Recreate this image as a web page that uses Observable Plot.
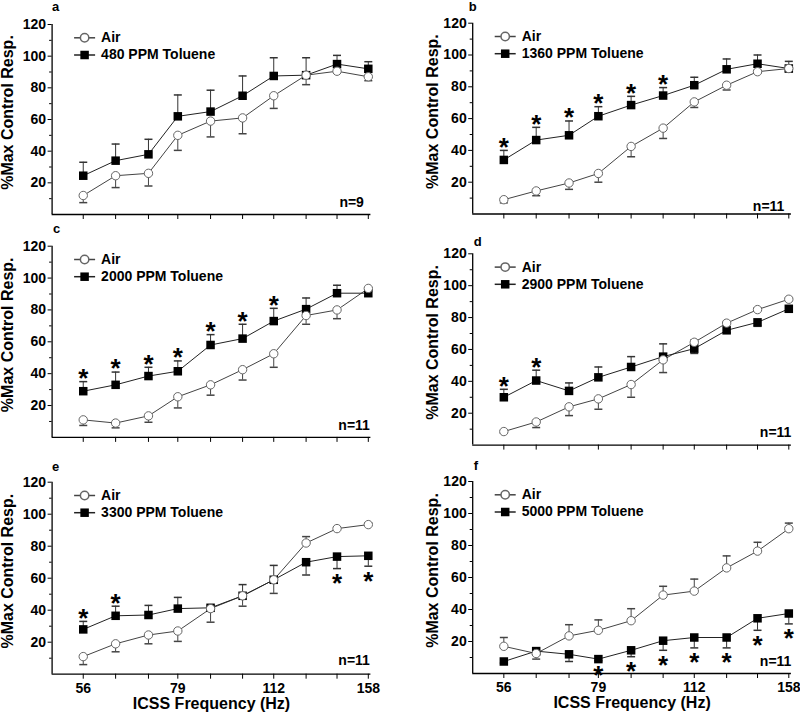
<!DOCTYPE html>
<html><head><meta charset="utf-8">
<script src="https://cdn.jsdelivr.net/npm/d3@7"></script>
<script src="https://cdn.jsdelivr.net/npm/@observablehq/plot@0.6"></script>
<style>
html,body{margin:0;padding:0;background:#fff;}
#fig{position:relative;width:800px;height:713px;overflow:hidden;}
#fig svg{position:absolute;}
</style></head><body><div id="fig"></div>
<script>
// ---- data ----
const freqs = [56, 63, 71, 79, 89, 100, 112, 126, 141, 158];
const xTickLabels = [56, 79, 112, 158];
const yTicks = [20, 40, 60, 80, 100, 120];
const yMinorTicks = [10, 30, 50, 70, 90, 110];
const xTitle = "ICSS Frequency (Hz)";
const yTitle = "%Max Control Resp.";
const airLabel = "Air";
const panelLetters = ["a", "b", "c", "d", "e", "f"];
const doseLabels = ["480 PPM Toluene", "1360 PPM Toluene", "2000 PPM Toluene", "2900 PPM Toluene", "3300 PPM Toluene", "5000 PPM Toluene"];
const nLabels = ["n=9", "n=11", "n=11", "n=11", "n=11", "n=11"];

// signed errors: positive = bar drawn upward, negative = downward
// sig: 1 = asterisk above toluene bar, -1 = below, 0 = none
const airA = [12, 24.5, 26, 50, 59, 61, 75, 88, 90.5, 87];
const airErrA = [-4.5, -7.5, -8, -9.5, -10, -10, -8, -6, -1, -2.5];
const tolA = [24.5, 34, 38, 62, 65, 75, 87.5, 88, 95, 92];
const tolErrA = [8.5, 10.5, 9.5, 13.5, 13.5, 12.5, 11.5, 11, 5.5, 4.5];
const sigA = [0, 0, 0, 0, 0, 0, 0, 0, 0, 0];

const airB = [9, 14.5, 19.5, 25.5, 42.5, 54, 70.5, 81, 89.5, 91.5];
const airErrB = [-2, -3, -4, -5.5, -6.5, -6.5, -3.5, -3, -1, -2];
const tolB = [34, 46.5, 49.5, 61.5, 68.5, 74.5, 81, 91, 94.5, 91.5];
const tolErrB = [6, 8, 9, 6, 5.5, 5, 5, 6.5, 5.5, 4.5];
const sigB = [1, 1, 1, 1, 1, 1, 0, 0, 0, 0];

const airC = [11, 9, 13.5, 25.5, 33, 42.5, 52.5, 76.5, 80, 93.5];
const airErrC = [-3.5, -3, -4, -7, -6.5, -6.5, -8.5, -5.5, -5.5, -1];
const tolC = [29, 33, 38.5, 41.5, 58, 62, 73, 80.5, 90.5, 90.5];
const tolErrC = [6, 8, 5.5, 6.5, 6.5, 9, 8, 7, 5, 1];
const sigC = [1, 1, 1, 1, 1, 1, 1, 0, 0, 0];

const airD = [8.5, 14.5, 24, 29, 38, 53.5, 64.5, 76.5, 85, 91.5];
const airErrD = [-1, -3.5, -5.5, -6.5, -8, -8, 1.5, 1, 1, 1];
const tolD = [30, 40.5, 34, 42.5, 49, 55.5, 60.5, 72, 77, 85.5];
const tolErrD = [5, 6.5, 5, 6.5, 6.5, 8, -3, -1.5, -2.5, -2];
const sigD = [1, 1, 0, 0, 0, 0, 0, 0, 0, 0];

const airE = [11, 19, 24.5, 27, 41, 49, 59, 82, 91, 93.5];
const airErrE = [-5, -5, -5.5, -6.5, -8.5, -6.5, -8.5, 4, 1, 1];
const tolE = [28, 36.5, 37, 41, 41.5, 49, 59, 70, 73.5, 74];
const tolErrE = [5, 6, 6, 7, 1, 7, 9, -8, -7.5, -6.5];
const sigE = [1, 1, 0, 0, 0, 0, 0, 0, -1, -1];

const airF = [17, 12.5, 23.5, 27, 33, 49, 51.5, 66, 76.5, 90.5];
const airErrF = [5.5, -3.5, 7, 6.5, 7.5, 5.5, 7.5, 7.5, 5.5, 3.5];
const tolF = [7.5, 14, 12, 9, 14.5, 20.5, 22.5, 22.5, 34.5, 37.5];
const tolErrF = [-1, -1, -4.5, -1, -4, -6, -6.5, -6.5, -7.5, -6.5];
const sigF = [0, 0, 0, -1, -1, -1, -1, -1, -1, -1];

const series = [
  {air: airA, airErr: airErrA, tol: tolA, tolErr: tolErrA, sig: sigA},
  {air: airB, airErr: airErrB, tol: tolB, tolErr: tolErrB, sig: sigB},
  {air: airC, airErr: airErrC, tol: tolC, tolErr: tolErrC, sig: sigC},
  {air: airD, airErr: airErrD, tol: tolD, tolErr: tolErrD, sig: sigD},
  {air: airE, airErr: airErrE, tol: tolE, tolErr: tolErrE, sig: sigE},
  {air: airF, airErr: airErrF, tol: tolF, tolErr: tolErrF, sig: sigF}
];

// ---- layout ----
const xDomain = [50, 159.5];
const layouts = [
  {left: 0,   top: 0,   h: 225, ml: 51.6, mr: 29.6, mt: 24,   mb: 11,   bottom: false, letDx: 0,  letDy: -18, nDx: -7, nDy: -12, yDx: -44},
  {left: 400, top: 0,   h: 225, ml: 72.2, mr: 9.1,  mt: 22.7, mb: 11.5, bottom: false, letDx: -4, letDy: -16, nDx: -7, nDy: -7,  yDx: -40},
  {left: 0,   top: 225, h: 230, ml: 51.6, mr: 29.6, mt: 20.7, mb: 18.1, bottom: false, letDx: 1,  letDy: -17, nDx: -1, nDy: -12, yDx: -44},
  {left: 400, top: 225, h: 230, ml: 72.2, mr: 9.1,  mt: 28.3, mb: 10.4, bottom: false, letDx: 1,  letDy: -12, nDx: 0,  nDy: -13, yDx: -40},
  {left: 0,   top: 455, h: 258, ml: 51.6, mr: 29.6, mt: 26.7, mb: 39.3, bottom: true,  letDx: 0,  letDy: -15, nDx: -1, nDy: -14, yDx: -44},
  {left: 400, top: 455, h: 258, ml: 72.2, mr: 9.1,  mt: 26,   mb: 40,   bottom: true,  letDx: 1,  letDy: -16, nDx: 0,  nDy: -12, yDx: -40}
];

const capSym = {draw(ctx) { ctx.moveTo(-4, 0); ctx.lineTo(4, 0); }};
const legLine = {draw(ctx) { ctx.moveTo(-10.5, 0); ctx.lineTo(10.5, 0); }};
const fig = document.getElementById("fig");

layouts.forEach((cfg, k) => {
  const s = series[k];
  const rows = freqs.map((f, i) => ({
    f, air: s.air[i], airEnd: s.air[i] + s.airErr[i],
    tol: s.tol[i], tolEnd: s.tol[i] + s.tolErr[i], sig: s.sig[i]
  }));
  const marks = [
    Plot.axisY(yTicks, {tickSize: 4, tickPadding: 2, fontSize: 14, fontWeight: "bold"}),
    Plot.axisY(yMinorTicks, {tickSize: 2.5, tickFormat: () => ""}),
    Plot.axisX(freqs, {tickSize: 5, tickFormat: () => ""}),
    Plot.ruleY([0], {stroke: "#000", strokeWidth: 1.3}),
    Plot.ruleX([xDomain[0]], {y1: 0, y2: 120, stroke: "#000", strokeWidth: 1.3}),
    // error bars
    Plot.ruleX(rows, {x: "f", y1: "air", y2: "airEnd", stroke: "#444"}),
    Plot.dot(rows, {x: "f", y: "airEnd", symbol: capSym, stroke: "#444", fill: "none"}),
    Plot.ruleX(rows, {x: "f", y1: "tol", y2: "tolEnd", stroke: "#333"}),
    Plot.dot(rows, {x: "f", y: "tolEnd", symbol: capSym, stroke: "#333", fill: "none"}),
    // lines
    Plot.line(rows, {x: "f", y: "air", stroke: "#444", strokeWidth: 1}),
    Plot.line(rows, {x: "f", y: "tol", stroke: "#222", strokeWidth: 1}),
    // markers
    Plot.dot(rows, {x: "f", y: "tol", symbol: "square", r: 4.8, fill: "#000", stroke: "none"}),
    Plot.dot(rows, {x: "f", y: "air", r: 4.2, fill: "#fff", stroke: "#666", strokeWidth: 1}),
    // significance asterisks
    Plot.text(rows.filter(d => d.sig > 0), {x: "f", y: "tolEnd", text: () => "*", fontSize: 26, fontWeight: "bold", lineAnchor: "middle", dy: -3}),
    Plot.text(rows.filter(d => d.sig < 0), {x: "f", y: "tolEnd", text: () => "*", fontSize: 26, fontWeight: "bold", lineAnchor: "middle", dy: 15}),
    // legend
    Plot.dot([0], {frameAnchor: "top-left", dx: 32.5, dy: 13.3, symbol: legLine, stroke: "#444", fill: "none"}),
    Plot.dot([0], {frameAnchor: "top-left", dx: 32.5, dy: 13.3, r: 4.2, fill: "#fff", stroke: "#666"}),
    Plot.text([airLabel], {frameAnchor: "top-left", dx: 49, dy: 13.3, text: d => d, textAnchor: "start", lineAnchor: "middle", fontSize: 14, fontWeight: "bold"}),
    Plot.dot([0], {frameAnchor: "top-left", dx: 32.5, dy: 30.5, symbol: legLine, stroke: "#222", fill: "none"}),
    Plot.dot([0], {frameAnchor: "top-left", dx: 32.5, dy: 30.5, symbol: "square", r: 4.8, fill: "#000", stroke: "none"}),
    Plot.text([doseLabels[k]], {frameAnchor: "top-left", dx: 49, dy: 30.5, text: d => d, textAnchor: "start", lineAnchor: "middle", fontSize: 14, fontWeight: "bold"}),
    // panel letter, n, y title
    Plot.text([panelLetters[k]], {frameAnchor: "top-left", dx: cfg.letDx, dy: cfg.letDy, text: d => d, textAnchor: "start", lineAnchor: "middle", fontSize: 13, fontWeight: "bold"}),
    Plot.text([nLabels[k]], {frameAnchor: "bottom-right", dx: cfg.nDx, dy: cfg.nDy, text: d => d, textAnchor: "end", lineAnchor: "middle", fontSize: 14, fontWeight: "bold"}),
    Plot.text([yTitle], {frameAnchor: "left", dx: cfg.yDx, dy: -7, rotate: -90, text: d => d, textAnchor: "middle", lineAnchor: "middle", fontSize: 16, fontWeight: "bold"})
  ];
  if (cfg.bottom) {
    marks.push(Plot.text(xTickLabels, {x: d => d, frameAnchor: "bottom", dy: 14.3, text: d => String(d), textAnchor: "middle", lineAnchor: "middle", fontSize: 14, fontWeight: "bold"}));
    marks.push(Plot.text([xTitle], {frameAnchor: "bottom", dy: 29.8, text: d => d, textAnchor: "middle", lineAnchor: "middle", fontSize: 16, fontWeight: "bold"}));
  }
  const svg = Plot.plot({
    width: 400, height: cfg.h,
    marginLeft: cfg.ml, marginRight: cfg.mr, marginTop: cfg.mt, marginBottom: cfg.mb,
    style: {fontFamily: "'Liberation Sans', Arial, sans-serif", fontSize: "14px", fontWeight: "bold", background: "transparent", color: "#000", overflow: "visible"},
    x: {type: "log", domain: xDomain, label: null},
    y: {domain: [0, 120], label: null},
    marks
  });
  svg.style.left = cfg.left + "px";
  svg.style.top = cfg.top + "px";
  fig.appendChild(svg);
});
</script></body></html>
